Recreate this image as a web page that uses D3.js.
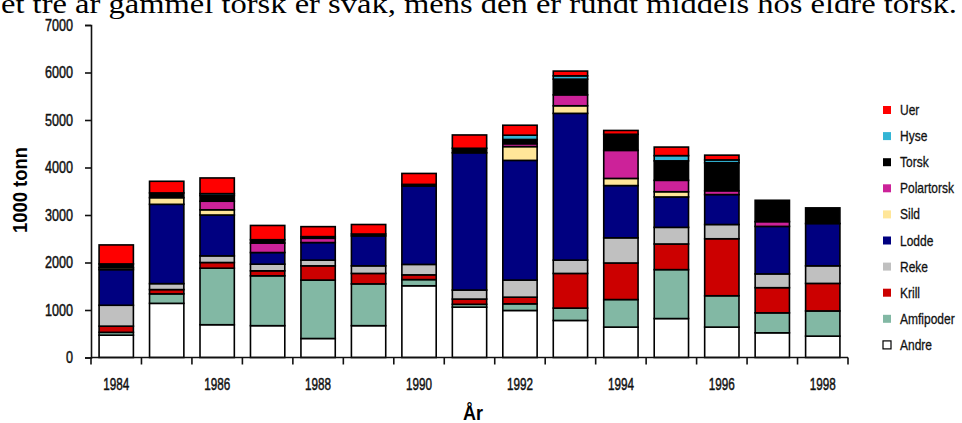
<!DOCTYPE html>
<html>
<head>
<meta charset="utf-8">
<script src="https://cdn.jsdelivr.net/npm/d3@7"></script>
<style>
  body { margin: 0; background: #fff; }
  svg { display: block; }
  .narrow { font-family: "Liberation Sans", Arial, sans-serif; }
</style>
</head>
<body>
<script>
// data (1000 tonn)
const years = [1984, 1985, 1986, 1987, 1988, 1989, 1990, 1991, 1992, 1993, 1994, 1995, 1996, 1997, 1998];
const andre      = [470, 1140, 690, 670, 400, 670, 1510, 1060, 990, 780, 640, 820, 640, 520, 450];
const amfipoder  = [60, 200, 1190, 1050, 1230, 880, 130, 60, 140, 260, 580, 1030, 660, 420, 530];
const krill      = [130, 90, 120, 105, 300, 220, 100, 110, 140, 730, 770, 540, 1200, 530, 580];
const reke       = [440, 125, 140, 140, 120, 160, 220, 190, 360, 280, 530, 350, 300, 290, 370];
const lodde      = [750, 1670, 860, 245, 370, 630, 1650, 2890, 2520, 3090, 1100, 640, 630, 1000, 890];
const sild       = [40, 140, 110, 0, 0, 0, 0, 0, 290, 160, 150, 110, 0, 0, 0];
const polartorsk = [0, 0, 180, 200, 90, 0, 0, 0, 60, 230, 590, 240, 80, 100, 0];
const torsk      = [80, 100, 120, 70, 35, 40, 35, 95, 90, 330, 340, 410, 590, 450, 330];
const hyse       = [0, 0, 40, 0, 0, 0, 0, 0, 90, 70, 0, 110, 60, 0, 0];
const uer        = [400, 245, 330, 300, 210, 200, 230, 280, 210, 100, 80, 180, 100, 0, 0];

const keys = ["Andre", "Amfipoder", "Krill", "Reke", "Lodde", "Sild", "Polartorsk", "Torsk", "Hyse", "Uer"];
const values = [andre, amfipoder, krill, reke, lodde, sild, polartorsk, torsk, hyse, uer];
const colors = ["#ffffff", "#82b8a4", "#cc0000", "#c0c0c0", "#000080", "#ffe699", "#cc2299", "#000000", "#33b5d5", "#ff0000"];
const yTicks = [0, 1000, 2000, 3000, 4000, 5000, 6000, 7000];
const yearLabels = [1984, 1986, 1988, 1990, 1992, 1994, 1996, 1998];

const width = 962, height = 423;

const svg = d3.select("body").append("svg")
    .attr("width", width)
    .attr("height", height);

// the chart font is a very condensed one
// digits: fixed width per character
function digits(sel, perChar) {
  sel.attr("textLength", function () { return this.textContent.length * perChar; })
     .attr("lengthAdjust", "spacingAndGlyphs");
}
// words: squeeze the natural width by a factor
function squeeze(sel, f) {
  sel.each(function () {
    let w = this.getComputedTextLength();
    d3.select(this).attr("textLength", w * f).attr("lengthAdjust", "spacingAndGlyphs");
  });
}

// table for the stack
const table = years.map((yr, i) => {
  let row = { year: yr };
  keys.forEach((k, j) => { row[k] = values[j][i]; });
  return row;
});

const color = d3.scaleOrdinal().domain(keys).range(colors);

const x = d3.scaleBand()
    .domain(years)
    .range([91, 848])
    .paddingInner(0.32)
    .paddingOuter(0.16);

const y = d3.scaleLinear()
    .domain([0, 7000])
    .range([357.5, 25]);

// cut-off line of body text above the chart
svg.append("text")
    .attr("x", 1)
    .attr("y", 13)
    .attr("textLength", 956)
    .attr("lengthAdjust", "spacingAndGlyphs")
    .style("font-family", "'Liberation Serif', 'DejaVu Serif', serif")
    .style("font-size", "28px")
    .text("et tre år gammel torsk er svak, mens den er rundt middels hos eldre torsk.");

const stacked = d3.stack().keys(keys)(table);

svg.append("g")
  .selectAll("g")
  .data(stacked)
  .join("g")
    .attr("fill", d => color(d.key))
  .selectAll("rect")
  .data(d => d.filter(s => s[1] > s[0]))
  .join("rect")
    .attr("x", d => x(d.data.year))
    .attr("y", d => y(d[1]))
    .attr("width", x.bandwidth())
    .attr("height", d => y(d[0]) - y(d[1]))
    .attr("stroke", "#000")
    .attr("stroke-width", 1.6);

// y axis
const yAxis = svg.append("g")
    .attr("class", "narrow")
    .attr("transform", "translate(91,0)")
    .call(d3.axisLeft(y).tickValues(yTicks).tickFormat(d3.format("d")).tickSize(6).tickPadding(12));
yAxis.attr("font-size", 17).attr("font-family", null);
yAxis.select(".domain").attr("stroke-width", 1.6).attr("stroke", "#111");
yAxis.selectAll(".tick line").attr("stroke-width", 1.6).attr("stroke", "#111");
yAxis.selectAll("text")
    .style("font-size", "17px")
    .attr("fill", "#111").attr("stroke", "#111").attr("stroke-width", 0.5)
    .call(digits, 7);

// x axis: ticks at category boundaries, labels every second year
const xg = svg.append("g")
    .attr("class", "narrow")
    .attr("transform", "translate(0,357.5)");
xg.append("line")
    .attr("x1", x.range()[0]).attr("x2", x.range()[1])
    .attr("stroke", "#111").attr("stroke-width", 1.6);
const half = (x.step() - x.bandwidth()) / 2;
const bounds = years.map(yr => x(yr) - half).concat([x(years[years.length - 1]) + x.bandwidth() + half]);
xg.selectAll(".bt")
  .data(bounds)
  .join("line")
    .attr("class", "bt")
    .attr("x1", d => d).attr("x2", d => d)
    .attr("y1", 0).attr("y2", 7)
    .attr("stroke", "#111").attr("stroke-width", 1.6);
xg.selectAll(".yl")
  .data(yearLabels)
  .join("text")
    .attr("class", "yl")
    .attr("x", d => x(d) + x.bandwidth() / 2)
    .attr("y", 32)
    .attr("text-anchor", "middle")
    .style("font-size", "17px")
    .attr("fill", "#111").attr("stroke", "#111").attr("stroke-width", 0.5)
    .text(d => d)
    .call(digits, 6.5);

// axis titles
svg.append("text")
    .attr("class", "narrow")
    .attr("transform", "translate(27,190) rotate(-90)")
    .attr("text-anchor", "middle")
    .attr("textLength", 86)
    .attr("lengthAdjust", "spacingAndGlyphs")
    .style("font-size", "21px")
    .style("font-weight", "bold")
    .text("1000 tonn");

svg.append("text")
    .attr("class", "narrow")
    .attr("x", 473)
    .attr("y", 420)
    .attr("text-anchor", "middle")
    .style("font-size", "20px")
    .style("font-weight", "bold")
    .text("År")
    .call(squeeze, 0.9);

// legend, top item = top of the stack
const legend = svg.append("g").attr("class", "narrow")
  .selectAll("g")
  .data(keys.slice().reverse())
  .join("g")
    .attr("transform", (d, i) => "translate(883," + (110 + i * 26.1) + ")");
legend.append("rect")
    .attr("x", 0).attr("y", -4)
    .attr("width", 8).attr("height", 8)
    .attr("fill", d => color(d))
    .attr("stroke", d => d === "Andre" ? "#000" : "none")
    .attr("stroke-width", 1.2);
legend.append("text")
    .attr("x", 17)
    .attr("y", 5)
    .style("font-size", "15px")
    .attr("fill", "#111").attr("stroke", "#111").attr("stroke-width", 0.3)
    .text(d => d)
    .call(squeeze, 0.8);
</script>
</body>
</html>
